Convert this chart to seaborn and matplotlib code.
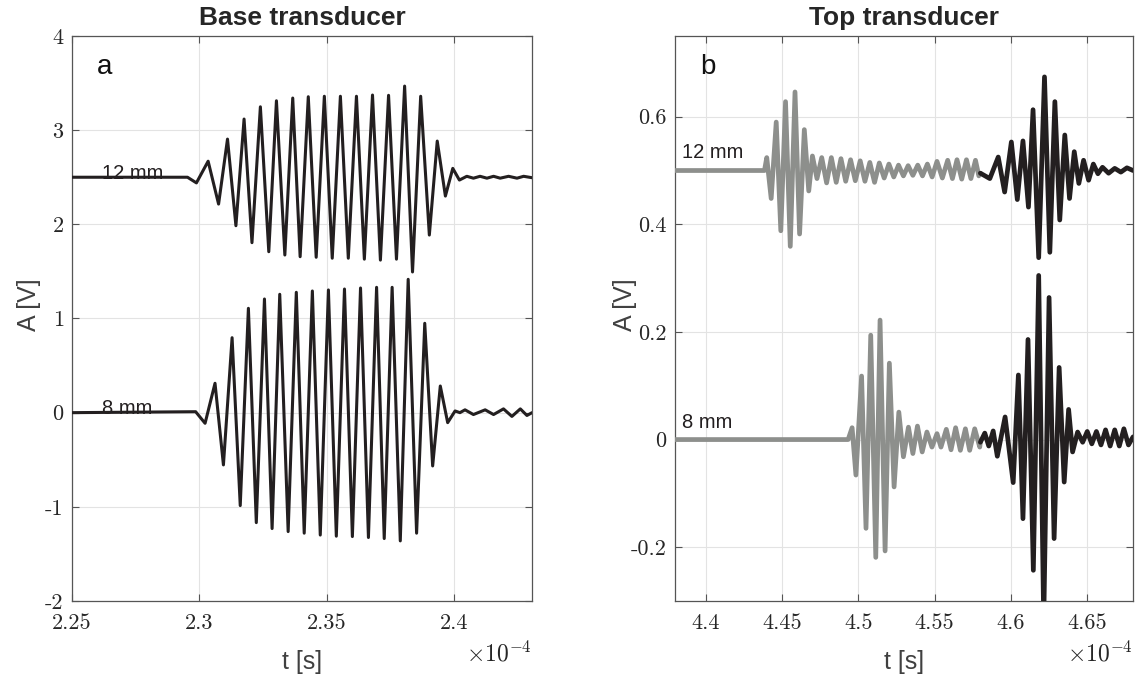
import numpy as np
import pandas as pd
import seaborn as sns
import matplotlib.pyplot as plt

# time in units of 1e-4 s, amplitude in V (peaks / troughs)
base_t12 = [2.25, 2.2953, 2.2988, 2.3034, 2.3075, 2.3110, 2.3143, 2.3175, 2.3206, 2.3239,
            2.3272, 2.3302, 2.3335, 2.3366, 2.3395, 2.3427, 2.3458, 2.3490, 2.3521, 2.3553,
            2.3584, 2.3616, 2.3647, 2.3679, 2.3710, 2.3742, 2.3773, 2.3805, 2.3836, 2.3868,
            2.3902, 2.3933, 2.3965, 2.3994, 2.4020, 2.4049, 2.4075, 2.4101, 2.4128, 2.4154,
            2.4180, 2.4213, 2.4246, 2.4272, 2.4305]
base_v12 = [2.50, 2.50, 2.44, 2.67, 2.215, 2.905, 1.985, 3.118, 1.805, 3.248,
            1.709, 3.312, 1.674, 3.341, 1.656, 3.355, 1.65, 3.36, 1.64, 3.36,
            1.64, 3.36, 1.63, 3.373, 1.62, 3.37, 1.63, 3.468, 1.494, 3.36,
            1.886, 2.884, 2.30, 2.594, 2.47, 2.51, 2.49, 2.51, 2.49, 2.51,
            2.49, 2.51, 2.49, 2.51, 2.495]

base_t8 = [2.25, 2.2985, 2.3022, 2.3061, 2.3094, 2.3128, 2.3160, 2.3192, 2.3223, 2.3255,
           2.3285, 2.3315, 2.3348, 2.3380, 2.3411, 2.3443, 2.3474, 2.3506, 2.3537, 2.3569,
           2.3600, 2.3632, 2.3663, 2.3695, 2.3725, 2.3756, 2.3788, 2.3819, 2.3852, 2.3884,
           2.3915, 2.3945, 2.3974, 2.4003, 2.4022, 2.4042, 2.4075, 2.4121, 2.4154, 2.4193,
           2.4226, 2.4259, 2.4285, 2.4305]
base_v8 = [0.0, 0.01, -0.113, 0.312, -0.555, 0.796, -0.987, 1.108, -1.168, 1.207,
           -1.231, 1.257, -1.263, 1.278, -1.28, 1.292, -1.30, 1.303, -1.312, 1.313,
           -1.316, 1.324, -1.326, 1.331, -1.337, 1.331, -1.362, 1.416, -1.28, 0.949,
           -0.566, 0.283, -0.106, 0.018, 0.0, 0.03, -0.02, 0.03, -0.02, 0.04,
           -0.04, 0.04, -0.03, 0.0]

top_t12 = [4.38, 4.4386, 4.4401, 4.4430, 4.4463, 4.4493, 4.4524, 4.4555, 4.4586, 4.4616,
           4.4647, 4.4676, 4.4700, 4.4730, 4.4761, 4.4793, 4.4824, 4.4856, 4.4887, 4.4918,
           4.4950, 4.4981, 4.5013, 4.5044, 4.5076, 4.5107, 4.5138, 4.5170, 4.5201, 4.5233,
           4.5264, 4.5296, 4.5327, 4.5358, 4.5390, 4.5421, 4.5453, 4.5484, 4.5516, 4.5551,
           4.5586, 4.5617, 4.5647, 4.5678, 4.5709, 4.5738, 4.5768, 4.5790, 4.5800, 4.5862,
           4.5917, 4.5959, 4.6003, 4.6042, 4.6079, 4.6115, 4.6145, 4.6182, 4.6220, 4.6255,
           4.6288, 4.6320, 4.6353, 4.6384, 4.6415, 4.6445, 4.6476, 4.6509, 4.6540, 4.6570,
           4.6600, 4.6640, 4.6680, 4.6720, 4.6760, 4.6800]
top_v12 = [0.50, 0.50, 0.524, 0.448, 0.590, 0.388, 0.628, 0.359, 0.646, 0.382,
           0.576, 0.462, 0.527, 0.485, 0.524, 0.477, 0.524, 0.478, 0.522, 0.480,
           0.520, 0.481, 0.518, 0.480, 0.515, 0.478, 0.514, 0.486, 0.512, 0.488,
           0.510, 0.490, 0.509, 0.491, 0.510, 0.490, 0.512, 0.488, 0.517, 0.486,
           0.519, 0.485, 0.520, 0.484, 0.520, 0.485, 0.519, 0.490, 0.495, 0.485,
           0.525, 0.460, 0.553, 0.446, 0.555, 0.432, 0.613, 0.338, 0.674, 0.348,
           0.628, 0.408, 0.566, 0.448, 0.535, 0.476, 0.519, 0.482, 0.512, 0.494,
           0.506, 0.495, 0.504, 0.497, 0.505, 0.500]

top_t8 = [4.38, 4.4934, 4.4960, 4.4985, 4.5022, 4.5051, 4.5082, 4.5115, 4.5143, 4.5176,
          4.5204, 4.5235, 4.5266, 4.5296, 4.5329, 4.5358, 4.5388, 4.5419, 4.5450, 4.5483,
          4.5516, 4.5542, 4.5577, 4.5608, 4.5638, 4.5669, 4.5702, 4.5730, 4.5763, 4.5796,
          4.5800, 4.5829, 4.5855, 4.5884, 4.5911, 4.5962, 4.6015, 4.6049, 4.6079, 4.6112,
          4.6147, 4.6182, 4.6215, 4.6250, 4.6283, 4.6316, 4.6349, 4.6378, 4.6404, 4.6437,
          4.6470, 4.6500, 4.6530, 4.6560, 4.6590, 4.6620, 4.6650, 4.6680, 4.6710, 4.6740,
          4.6770, 4.6800]
top_v8 = [0.0, 0.0, 0.022, -0.066, 0.118, -0.165, 0.194, -0.219, 0.222, -0.207,
          0.142, -0.088, 0.051, -0.032, 0.023, -0.026, 0.025, -0.023, 0.014, -0.014,
          0.011, -0.014, 0.019, -0.019, 0.022, -0.020, 0.020, -0.020, 0.020, -0.014,
          -0.005, 0.012, -0.012, 0.016, -0.031, 0.042, -0.080, 0.120, -0.147, 0.186,
          -0.243, 0.305, -0.34, 0.264, -0.184, 0.134, -0.079, 0.056, -0.023, 0.014,
          -0.005, 0.015, -0.008, 0.015, -0.010, 0.018, -0.012, 0.018, -0.012, 0.020,
          -0.010, 0.005]

split_t = 4.58  # trace turns from grey to black here

base_xticks = [2.25, 2.3, 2.35, 2.4]
base_yticks = [-2, -1, 0, 1, 2, 3, 4]
top_xticks = [4.4, 4.45, 4.5, 4.55, 4.6, 4.65]
top_yticks = [-0.2, 0, 0.2, 0.4, 0.6]

DARK = '#231f20'
GREY = '#8d8f8c'

sns.set_theme(style='white')
plt.rcParams['font.family'] = ['Liberation Sans', 'DejaVu Sans']
plt.rcParams['mathtext.fontset'] = 'cm'

fig = plt.figure(figsize=(11.4, 6.79), dpi=100)
ax1 = fig.add_axes([0.0632, 0.1149, 0.4035, 0.8321])
ax2 = fig.add_axes([0.5921, 0.1149, 0.4018, 0.8321])

# panel a
for t, v in [(base_t12, base_v12), (base_t8, base_v8)]:
    sns.lineplot(x=t, y=v, ax=ax1, color=DARK, linewidth=2.2,
                 estimator=None, sort=False, zorder=3)

# panel b: grey up to split_t, black afterwards
for t, v in [(top_t12, top_v12), (top_t8, top_v8)]:
    df = pd.DataFrame({'t': t, 'v': v})
    early = df[df.t <= split_t + 1e-9]
    late = df[df.t >= split_t - 1e-9]
    sns.lineplot(data=early, x='t', y='v', ax=ax2, color=GREY, linewidth=3.4,
                 estimator=None, sort=False, zorder=3)
    sns.lineplot(data=late, x='t', y='v', ax=ax2, color=DARK, linewidth=3.4,
                 estimator=None, sort=False, zorder=3)


def style(ax, title, letter, xticks, yticks, xlim, ylim, ylab_x):
    ax.set_xlim(*xlim)
    ax.set_ylim(*ylim)
    ax.set_xticks(xticks)
    ax.set_xticklabels([f'{x:g}' for x in xticks], fontfamily='cmr10',
                       fontsize=16, color='#262626')
    ax.set_yticks(yticks)
    ax.set_yticklabels([f'{y:g}' for y in yticks], fontfamily='cmr10',
                       fontsize=16, color='#262626')
    ax.tick_params(direction='in', length=5, width=0.8, color='#555555',
                   top=True, right=True, bottom=True, left=True)
    ax.tick_params(axis='x', pad=9)
    ax.tick_params(axis='y', pad=6)
    ax.grid(True, color='#e3e3e3', linewidth=0.8)
    ax.set_axisbelow(True)
    for s in ax.spines.values():
        s.set_visible(True)
        s.set_color('#555555')
        s.set_linewidth(0.9)
    ax.set_title(title, fontsize=19, fontweight='bold', pad=8)
    ax.set_xlabel('t [s]', fontsize=18, color='#404040', labelpad=12)
    ax.set_ylabel('A [V]', fontsize=18, color='#404040')
    ax.yaxis.set_label_coords(ylab_x, 0.525)
    ax.text(0.055, 0.945, letter, transform=ax.transAxes, fontsize=20,
            color='#111111', va='center', ha='left')
    ax.text(1.0, -0.093, r'$\times 10^{-4}$', transform=ax.transAxes,
            fontsize=17, color='#262626', ha='right', va='center')


style(ax1, 'Base transducer', 'a', base_xticks, base_yticks,
      (2.25, 2.4305), (-2, 4), -0.068)
style(ax2, 'Top transducer', 'b', top_xticks, top_yticks,
      (4.38, 4.68), (-0.3, 0.75), -0.082)

ax1.text(2.2617, 2.485, '12 mm', fontsize=14.5, color=DARK, zorder=2)
ax1.text(2.2617, -0.01, '8 mm', fontsize=14.5, color=DARK, zorder=2)
ax2.text(4.3847, 0.523, '12 mm', fontsize=14.5, color=DARK, zorder=2)
ax2.text(4.3847, 0.021, '8 mm', fontsize=14.5, color=DARK, zorder=2)

fig.savefig('out.png', dpi=100)
